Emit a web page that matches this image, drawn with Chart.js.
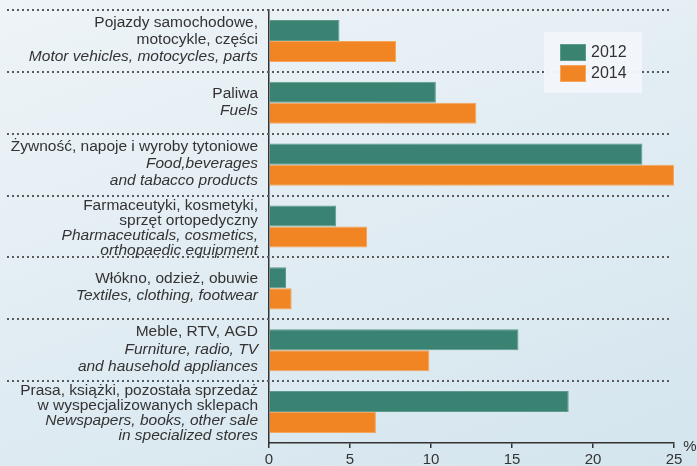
<!DOCTYPE html>
<html>
<head>
<meta charset="utf-8">
<script src="https://cdn.jsdelivr.net/npm/chart.js@4.4.0/dist/chart.umd.min.js"></script>
<style>
  html, body { margin: 0; padding: 0; }
  body {
    width: 697px; height: 466px; overflow: hidden;
    background: linear-gradient(160deg, #eef4f8 0%, #e2edf3 45%, #d4e5ee 100%);
  }
  #wrap { position: relative; width: 697px; height: 466px; }
  canvas { display: block; }
</style>
</head>
<body>
<div id="wrap"><canvas id="wykres" width="697" height="466"></canvas></div>
<script>
// dane
const kategorie = ["Pojazdy", "Paliwa", "Żywność", "Farmaceutyki", "Włókno", "Meble", "Prasa"];
const opisyPl = [
  ["Pojazdy samochodowe,", "motocykle, części"],
  ["Paliwa"],
  ["Żywność, napoje i wyroby tytoniowe"],
  ["Farmaceutyki, kosmetyki,", "sprzęt ortopedyczny"],
  ["Włókno, odzież, obuwie"],
  ["Meble, RTV, AGD"],
  ["Prasa, książki, pozostała sprzedaż", "w wyspecjalizowanych sklepach"]
];
const opisyEn = [
  ["Motor vehicles, motocycles, parts"],
  ["Fuels"],
  ["Food,beverages", "and tabacco products"],
  ["Pharmaceuticals, cosmetics,", "orthopaedic equipment"],
  ["Textiles, clothing, footwear"],
  ["Furniture, radio, TV", "and hausehold appliances"],
  ["Newspapers, books, other sale", "in specialized stores"]
];
const lata = ["2012", "2014"];
const wartosci2012 = [4.35, 10.3, 23.05, 4.15, 1.05, 15.4, 18.5];
const wartosci2014 = [7.85, 12.8, 25.0, 6.05, 1.4, 9.9, 6.6];
const osX = { min: 0, max: 25, krok: 5 };

const kolory = ["#3a8272", "#f28523"];
const obramowania = ["#5d9b8c", "#f6a45a"];
const tekst = "#333333";
const czcionka = "'Liberation Sans', Arial, sans-serif";

// przerywane linie oddzielające kategorie
const separatory = {
  id: "separatory",
  beforeDatasetsDraw(chart) {
    const { ctx, chartArea, scales: { y } } = chart;
    const krok = y.getPixelForValue(1) - y.getPixelForValue(0);
    ctx.save();
    ctx.strokeStyle = "#5a5a5a";
    ctx.lineWidth = 2;
    ctx.setLineDash([2, 3]);
    for (let i = 0; i < kategorie.length; i++) {
      const py = Math.round(y.getPixelForValue(i) - krok / 2);
      ctx.beginPath();
      ctx.moveTo(7, py);
      ctx.lineTo(chartArea.right - 2, py);
      ctx.stroke();
    }
    ctx.restore();
  }
};

// opisy kategorii (polski normalnie, angielski kursywą) + legenda + "%"
const opisy = {
  id: "opisy",
  afterDraw(chart) {
    const { ctx, chartArea, scales: { y } } = chart;
    ctx.save();
    ctx.fillStyle = tekst;
    ctx.textAlign = "right";
    ctx.textBaseline = "middle";
    kategorie.forEach((k, i) => {
      const linie = opisyPl[i].map(t => ({ t, it: false }))
        .concat(opisyEn[i].map(t => ({ t, it: true })));
      const ciasno = linie.length > 3;
      const lh = ciasno ? 15 : 17;
      const srodek = y.getPixelForValue(i) + (ciasno ? 1.5 : -1);
      const start = srodek - (linie.length - 1) * lh / 2;
      linie.forEach((l, j) => {
        ctx.font = (l.it ? "italic " : "") + "15.5px " + czcionka;
        ctx.fillText(l.t, chartArea.left - 11, start + j * lh);
      });
    });

    // jednostka osi
    ctx.textAlign = "center";
    ctx.font = "15px " + czcionka;
    ctx.fillText("%", chartArea.right + 16, chartArea.bottom + 4);

    // legenda
    const lx = chartArea.right - 130, ly = chartArea.top + 22;
    ctx.fillStyle = "rgba(242, 246, 251, 0.95)";
    ctx.fillRect(lx, ly, 98, 61);
    ctx.textAlign = "left";
    ctx.font = "16px " + czcionka;
    lata.forEach((rok, i) => {
      const ry = ly + 12 + i * 21;
      ctx.fillStyle = kolory[i];
      ctx.fillRect(lx + 16, ry, 26, 17);
      ctx.strokeStyle = obramowania[i];
      ctx.lineWidth = 1;
      ctx.strokeRect(lx + 16.5, ry + 0.5, 25, 16);
      ctx.fillStyle = tekst;
      ctx.fillText(rok, lx + 47, ry + 9);
    });
    ctx.restore();
  }
};

new Chart(document.getElementById("wykres"), {
  type: "bar",
  data: {
    labels: kategorie,
    datasets: [
      {
        label: lata[0],
        data: wartosci2012,
        backgroundColor: kolory[0],
        borderColor: obramowania[0],
        borderWidth: 1
      },
      {
        label: lata[1],
        data: wartosci2014,
        backgroundColor: kolory[1],
        borderColor: obramowania[1],
        borderWidth: 1
      }
    ]
  },
  options: {
    indexAxis: "y",
    responsive: false,
    animation: false,
    devicePixelRatio: 1,
    barPercentage: 1,
    categoryPercentage: 0.68,
    layout: { padding: { top: 10, right: 23, left: 0, bottom: 0 } },
    plugins: {
      legend: { display: false },
      tooltip: { enabled: false }
    },
    scales: {
      x: {
        min: osX.min,
        max: osX.max,
        ticks: {
          stepSize: osX.krok,
          color: tekst,
          font: { size: 15, family: czcionka },
          padding: 3
        },
        grid: {
          drawOnChartArea: false,
          drawTicks: true,
          tickLength: 5,
          color: "#333",
          lineWidth: 1.5
        },
        border: { display: true, color: "#333", width: 1.5 },
        afterFit(scale) { scale.height = 23; }
      },
      y: {
        ticks: { display: false },
        grid: { display: true, drawOnChartArea: false, drawTicks: false },
        border: { display: true, color: "#333", width: 1.5 },
        afterFit(scale) { scale.width = 269; }
      }
    }
  },
  plugins: [separatory, opisy]
});
</script>
</body>
</html>
